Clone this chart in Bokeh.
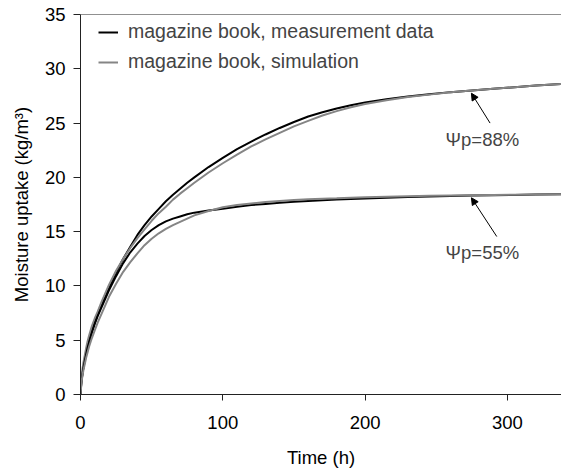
from bokeh.plotting import figure
from bokeh.models import Range1d, Legend, LegendItem, Span, Arrow, NormalHead, Label
from bokeh.embed import file_html
from bokeh.resources import INLINE

# time (h)
t = [0, 0.5, 1, 2, 3, 4, 5, 6, 8, 10, 12, 15, 18, 20, 25, 30, 35, 40, 45, 50, 55, 60,
     65, 70, 75, 80, 90, 100, 110, 120, 130, 140, 150, 160, 170, 180, 190, 200,
     215, 230, 245, 260, 275, 290, 305, 320, 338]

# Moisture uptake (kg/m3), psi_p = 88 %
meas_88 = [0, 1.0, 1.6, 2.5, 3.2, 3.8, 4.4, 4.9, 5.8, 6.6, 7.3, 8.3, 9.2, 9.8, 11.2,
           12.5, 13.6, 14.7, 15.6, 16.4, 17.1, 17.8, 18.4, 18.95, 19.5, 20.0, 20.95,
           21.8, 22.6, 23.3, 23.95, 24.55, 25.1, 25.6, 26.0, 26.35, 26.65, 26.9,
           27.2, 27.45, 27.65, 27.85, 28.0, 28.15, 28.3, 28.45, 28.6]
sim_88 = [0, 1.3, 2.0, 2.9, 3.6, 4.3, 4.9, 5.4, 6.3, 7.0, 7.6, 8.6, 9.5, 10.1, 11.4,
          12.5, 13.5, 14.4, 15.2, 16.0, 16.7, 17.3, 17.95, 18.5, 19.0, 19.5, 20.45,
          21.3, 22.1, 22.85, 23.5, 24.1, 24.7, 25.2, 25.7, 26.1, 26.45, 26.75,
          27.1, 27.4, 27.62, 27.83, 28.0, 28.15, 28.3, 28.45, 28.6]
# Moisture uptake (kg/m3), psi_p = 55 %
meas_55 = [0, 0.9, 1.5, 2.4, 3.1, 3.7, 4.3, 4.8, 5.7, 6.5, 7.2, 8.1, 9.0, 9.6, 10.9,
           12.1, 13.1, 13.9, 14.6, 15.15, 15.6, 15.95, 16.2, 16.4, 16.6, 16.75, 16.95,
           17.1, 17.3, 17.45, 17.55, 17.65, 17.75, 17.83, 17.9, 17.95, 18.0, 18.05,
           18.12, 18.18, 18.23, 18.28, 18.32, 18.35, 18.38, 18.42, 18.45]
sim_55 = [0, 0.8, 1.4, 2.2, 2.8, 3.4, 3.9, 4.4, 5.2, 5.9, 6.6, 7.5, 8.4, 9.0, 10.2,
          11.3, 12.2, 13.0, 13.75, 14.35, 14.85, 15.25, 15.6, 15.9, 16.2, 16.5, 16.9,
          17.25, 17.45, 17.6, 17.72, 17.82, 17.92, 17.98, 18.04, 18.08, 18.13, 18.17,
          18.22, 18.26, 18.3, 18.33, 18.36, 18.38, 18.4, 18.43, 18.45]

labels = ["magazine book, measurement data", "magazine book, simulation"]
annot_text = ["\u03a8p=88%", "\u03a8p=55%"]

FONT = "Liberation Sans"
BLACK = "#000000"
GRAY = "#858585"

p = figure(width=561, height=474, output_backend="svg", toolbar_location=None,
           x_range=Range1d(0, 338), y_range=Range1d(0, 35),
           min_border_left=80, min_border_right=0, min_border_top=14, min_border_bottom=80)
p.outline_line_color = None
p.xgrid.visible = False
p.ygrid.visible = False
p.background_fill_color = "white"
p.border_fill_color = "white"

r1 = p.line(t, meas_88, line_color=BLACK, line_width=2)
r2 = p.line(t, sim_88, line_color=GRAY, line_width=2)
r3 = p.line(t, meas_55, line_color=BLACK, line_width=2)
r4 = p.line(t, sim_55, line_color=GRAY, line_width=2)

p.xaxis.ticker = [0, 100, 200, 300]
p.yaxis.ticker = [0, 5, 10, 15, 20, 25, 30, 35]
p.xaxis.axis_label = "Time (h)"
p.yaxis.axis_label = "Moisture uptake (kg/m\u00b3)"
for ax in (p.xaxis, p.yaxis):
    ax.axis_line_color = "#222222"
    ax.major_tick_line_color = "#222222"
    ax.minor_tick_line_color = None
    ax.major_tick_in = 0
    ax.major_label_text_font = FONT
    ax.major_label_text_font_size = "18.5px"
    ax.major_label_text_color = "black"
    ax.axis_label_text_font = FONT
    ax.axis_label_text_font_size = "18.5px"
    ax.axis_label_text_font_style = "normal"
    ax.axis_label_text_color = "black"
p.xaxis.major_tick_out = 6
p.yaxis.major_tick_out = 7
p.xaxis.major_label_standoff = 15
p.yaxis.major_label_standoff = 8
p.xaxis.axis_label_standoff = 15
p.yaxis.axis_label_standoff = 10

p.add_layout(Span(location=35, dimension="width", line_color="#222222", line_width=1))

legend = Legend(items=[LegendItem(label=labels[0], renderers=[r1]),
                       LegendItem(label=labels[1], renderers=[r2])],
                location=(18, 321), padding=0, margin=0, spacing=7,
                glyph_width=20, glyph_height=20, label_height=20, label_standoff=10,
                label_text_font=FONT, label_text_font_size="19.5px",
                border_line_color=None, background_fill_alpha=0)
p.add_layout(legend)

# annotations
p.add_layout(Arrow(x_start=287.8, y_start=25.0, x_end=274.7, y_end=27.75,
                   line_color=BLACK, line_width=1,
                   end=NormalHead(size=7, fill_color=BLACK, line_color=BLACK)))
p.add_layout(Arrow(x_start=292.5, y_start=14.55, x_end=274.7, y_end=18.12,
                   line_color=BLACK, line_width=1,
                   end=NormalHead(size=7, fill_color=BLACK, line_color=BLACK)))
p.add_layout(Label(x=282.4, y=23.46, text=annot_text[0], text_align="center",
                   text_baseline="middle", text_font=FONT, text_font_size="18.5px"))
p.add_layout(Label(x=282.4, y=13.1, text=annot_text[1], text_align="center",
                   text_baseline="middle", text_font=FONT, text_font_size="18.5px"))

open("out.html", "w").write(file_html(p, INLINE))
